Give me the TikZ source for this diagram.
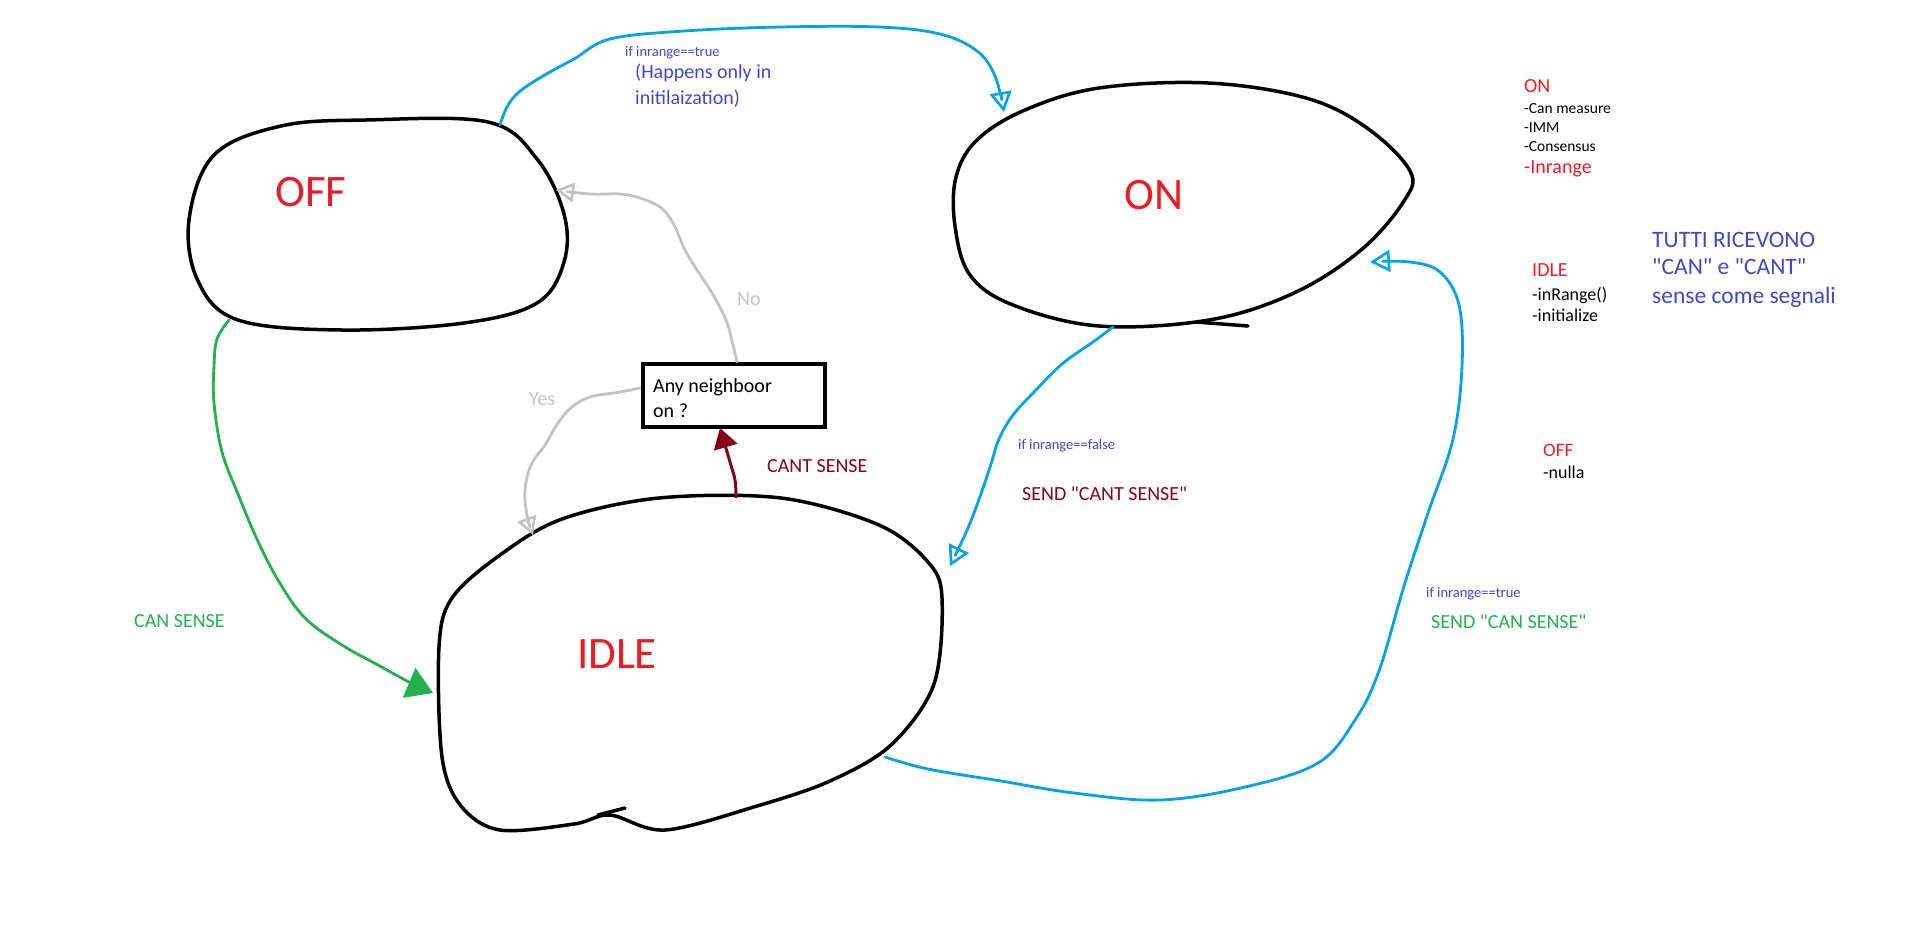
\documentclass[tikz,border=0pt]{standalone}
\usepackage{fontspec}
\setmainfont{Carlito}
\usetikzlibrary{arrows.meta}
\definecolor{pred}{HTML}{ED1C24}
\definecolor{pblue}{HTML}{00A2E8}
\definecolor{pgreen}{HTML}{22B14C}
\definecolor{pdred}{HTML}{880015}
\definecolor{pgray}{HTML}{C3C3C3}
\definecolor{ptext}{HTML}{3F48CC}
\newcommand{\fsz}[1]{\fontsize{#1}{#1}\selectfont}
\newcommand{\dq}{\textquotedbl}
\begin{document}
\begin{tikzpicture}[x=1pt,y=-1pt,
  blob/.style={draw=black,line width=3.5pt,line join=round,line cap=round},
  bigname/.style={text=pred,font=\fsz{45}},
  lbl/.style={anchor=base west,inner sep=0pt},
  small/.style={lbl,font=\fsz{14.5},text=ptext},
  mid/.style={lbl,font=\fsz{20}},
  bluearrow/.style={draw=pblue,line width=2.8pt,line cap=round,line join=round,
    -{Triangle[open,length=20pt,width=22pt,line width=2.6pt]}},
  grayarrow/.style={draw=pgray,line width=2.8pt,line cap=round,line join=round,
    -{Triangle[open,length=18pt,width=20pt,line width=2.6pt]}},
  greenarrow/.style={draw=pgreen,line width=2.8pt,line cap=round,line join=round,
    -{Triangle[length=26pt,width=32pt]}},
  redarrow/.style={draw=pdred,line width=3pt,line cap=round,line join=round,
    -{Triangle[length=20pt,width=24pt]}},
  qbox/.style={draw=black,line width=4pt,minimum width=182pt,minimum height=63pt,inner sep=0pt}
]
\fill[white] (0,0) rectangle (1914,935);
\useasboundingbox (0,0) rectangle (1914,935);

% state blobs
\draw[blob] plot[smooth cycle,tension=0.6] coordinates {(214,155) (281,126) (366,120) (488,122) (537,159) (564,214) (564,262) (537,303) (464,323) (342,330) (238,320) (198,281) (189,220)};
\draw[blob] plot[smooth cycle,tension=0.6] coordinates {(956,177) (977,140) (1025,110) (1099,88) (1208,83) (1306,98) (1367,128) (1410,171) (1404,201) (1361,250) (1294,293) (1209,320) (1099,326) (1013,305) (970,275) (955,226)};
\draw[blob] (1196,322) -- (1248,326);
\draw[blob] plot[smooth cycle,tension=0.55] coordinates {(500,555) (562,519) (659,498) (781,498) (879,525) (928,562) (942,598) (934,684) (891,745) (830,781) (757,806) (665,830) (610,815) (574,824) (500,830) (461,806) (442,757) (439,647) (452,598)};
\draw[blob] (598,815) -- (625,808);

\node[bigname] (off) at (311,192) {OFF};
\node[bigname] (on) at (1154,195) {ON};
\node[bigname] (idle) at (617,654) {IDLE};

% decision box
\node[qbox,anchor=north west] (q) at (641,362) {};
\node[mid,text=black] (q1) at (653,392) {Any neighboor};
\node[mid,text=black] (q2) at (653,417) {on ?};

% attachment points
\coordinate (offTR) at (500,125);
\coordinate (offBL) at (229,320);
\coordinate (offR) at (556,190);
\coordinate (onTop) at (1004,112);
\coordinate (onB) at (1113,327);
\coordinate (onR) at (1370,262);
\coordinate (idleL) at (433,693);
\coordinate (idleR) at (950,566);
\coordinate (idleT) at (736,497);
\coordinate (idleTL) at (533,535);
\coordinate (idleBR) at (885,757);
\coordinate (qT) at (737,362);
\coordinate (qL) at (640,388);
\coordinate (qB) at (720,428);

% connectors
\draw[bluearrow] plot[smooth,tension=0.6] coordinates {(offTR) (507,107) (519,92) (543,76) (574,59) (610,39) (684,31) (781,27) (879,27) (940,34) (977,51) (995,76) (onTop)};
\draw[grayarrow] plot[smooth,tension=0.6] coordinates {(qT) (733,345) (726,320) (712,293) (697,270) (685,250) (673,223) (660,207) (640,198) (620,194) (590,194) (offR)};
\draw[grayarrow] plot[smooth,tension=0.6] coordinates {(qL) (620,392) (590,397) (572,407) (558,423) (545,445) (531,465) (525,490) (527,515) (idleTL)};
\draw[redarrow] plot[smooth,tension=0.6] coordinates {(idleT) (735,480) (730,462) (qB)};
\draw[greenarrow] plot[smooth,tension=0.6] coordinates {(offBL) (217,339) (214,366) (214,403) (222,452) (238,494) (256,537) (278,580) (305,618) (342,645) (378,665) (409,682) (idleL)};
\draw[bluearrow] plot[smooth,tension=0.6] coordinates {(onB) (1093,342) (1062,364) (1035,391) (1013,415) (999,439) (991,464) (983,488) (974,513) (964,537) (idleR)};
\draw[bluearrow] plot[smooth,tension=0.6] coordinates {(idleBR) (928,769) (1001,781) (1074,793) (1160,800) (1245,787) (1318,763) (1355,720) (1379,671) (1404,586) (1428,513) (1453,439) (1462,366) (1459,305) (1440,272) (1410,262) (onR)};

% connector labels
\node[small] (t1) at (625,56) {if inrange==true};
\node[mid,text=ptext] (t2) at (635,78) {(Happens only in};
\node[mid,text=ptext] (t3) at (635,104) {initilaization)};
\node[mid,text=pgray] (no) at (737,305) {No};
\node[mid,text=pgray] (yes) at (529,405) {Yes};
\node[mid,text=pdred] (cant) at (767,472) {CANT SENSE};
\node[mid,text=pgreen] (can) at (134,627) {CAN SENSE};
\node[small] (t4) at (1018,449) {if inrange==false};
\node[mid,text=pdred] (t5) at (1022,500) {SEND \dq CANT SENSE\dq};
\node[small] (t6) at (1426,597) {if inrange==true};
\node[mid,text=pgreen] (t7) at (1431,628) {SEND \dq CAN SENSE\dq};

% legend
\node[mid,text=pred] (l1) at (1524,92) {ON};
\node[lbl,font=\fsz{15.5}] (l2) at (1524,113) {-Can measure};
\node[lbl,font=\fsz{15.5}] (l3) at (1524,132) {-IMM};
\node[lbl,font=\fsz{15.5}] (l4) at (1524,151) {-Consensus};
\node[mid,text=pred] (l5) at (1524,173) {-Inrange};
\node[mid,text=pred] (l6) at (1532,276) {IDLE};
\node[lbl,font=\fsz{18}] (l7) at (1532,300) {-inRange()};
\node[lbl,font=\fsz{18}] (l8) at (1532,321) {-initialize};
\node[lbl,font=\fsz{19},text=pred] (l9) at (1543,456) {OFF};
\node[lbl,font=\fsz{18}] (l10) at (1543,478) {-nulla};
\node[lbl,font=\fsz{23.5},text=ptext] (m1) at (1652,247) {TUTTI RICEVONO};
\node[lbl,font=\fsz{23.5},text=ptext] (m2) at (1652,274) {\dq CAN\dq{} e \dq CANT\dq};
\node[lbl,font=\fsz{23.5},text=ptext] (m3) at (1652,303) {sense come segnali};
\end{tikzpicture}
\end{document}
